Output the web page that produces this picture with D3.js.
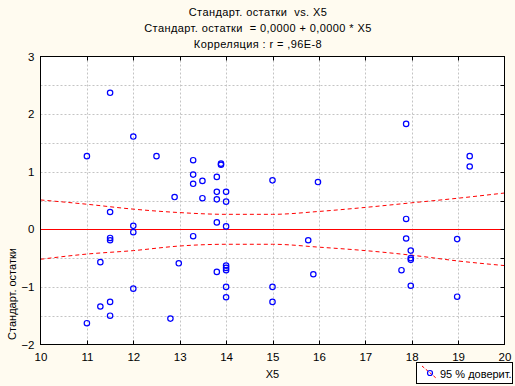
<!DOCTYPE html>
<html><head><meta charset="utf-8">
<script src="https://cdn.jsdelivr.net/npm/d3@7/dist/d3.min.js"></script>
<style>
html,body{margin:0;padding:0;background:#fffbf0;}
svg{display:block;}
text{font-family:"Liberation Sans",Arial,sans-serif;font-size:11px;fill:#000;white-space:pre;}
</style></head>
<body><svg id="c" width="515" height="386"></svg>
<script>
const titleLines = ["Стандарт. остатки  vs. X5", "Стандарт. остатки  = 0,0000 + 0,0000 * X5", "Корреляция : r = ,96E-8"];
const xLabel = "X5";
const yLabel = "Стандарт. остатки";
const legendLabel = "95 % доверит.";
const xTicks = [10,11,12,13,14,15,16,17,18,19,20];
const yTicks = [-2,-1,0,1,2,3];
const yGrid = [-1.5,-1,-0.5,0.5,1,1.5,2,2.5];
const xValues = [11.0,11.0,11.29,11.29,11.5,11.5,11.5,11.5,11.5,11.5,12.0,12.0,12.0,12.0,12.5,12.8,12.89,12.98,13.29,13.29,13.29,13.29,13.49,13.49,13.8,13.8,13.8,13.8,13.8,13.89,13.89,14.0,14.0,14.0,14.0,14.0,14.0,14.0,14.0,15.0,15.0,15.0,15.77,15.88,15.98,17.78,17.88,17.88,17.88,17.98,17.98,17.98,17.98,18.98,18.98,19.25,19.25];
const yValues = [1.27,-1.63,-0.57,-1.34,2.37,0.30,-0.15,-0.19,-1.26,-1.50,1.61,0.06,-0.05,-1.03,1.27,-1.55,0.56,-0.59,1.20,0.95,0.79,-0.12,0.84,0.54,0.91,0.65,0.52,0.12,-0.74,1.14,1.12,0.65,0.48,0.05,-0.63,-0.67,-0.71,-1.00,-1.18,0.85,-1.00,-1.26,-0.19,-0.78,0.82,-0.71,1.83,0.18,-0.16,-0.37,-0.50,-0.53,-0.98,-0.17,-1.17,1.27,1.09];
const bandX = [10,11,12,13,14,15,16,17,18,19,20];
const bandUpper = [0.51,0.435,0.35,0.29,0.26,0.26,0.31,0.38,0.46,0.54,0.63];
const bandLower = [-0.52,-0.43,-0.37,-0.29,-0.26,-0.26,-0.31,-0.37,-0.45,-0.55,-0.63];

const svg = d3.select("#c");
const L=40.5, R=504.5, T=56.5, B=344.5;
const x = d3.scaleLinear().domain([10,20]).range([L,R]);
const y = d3.scaleLinear().domain([-2,3]).range([B,T]);

svg.append("rect").attr("x",L).attr("y",T).attr("width",R-L).attr("height",B-T).attr("fill","#fff");

// grid
const g = svg.append("g").attr("stroke","#c4c4c4").attr("stroke-dasharray","2,2").attr("stroke-width",1);
xTicks.slice(1,-1).forEach(v=>g.append("line").attr("x1",Math.round(x(v))+0.5).attr("x2",Math.round(x(v))+0.5).attr("y1",T).attr("y2",B));
yGrid.forEach(v=>g.append("line").attr("x1",L).attr("x2",R).attr("y1",Math.round(y(v))+0.5).attr("y2",Math.round(y(v))+0.5));

// regression line at 0
svg.append("line").attr("x1",L).attr("x2",R).attr("y1",Math.round(y(0))+0.5).attr("y2",Math.round(y(0))+0.5).attr("stroke","#ff0000").attr("stroke-width",1.2);

// bands
const line = d3.line().x((d,i)=>x(bandX[i])).y(d=>y(d)).curve(d3.curveMonotoneX);
[bandUpper,bandLower].forEach(arr=>svg.append("path").attr("d",line(arr)).attr("fill","none").attr("stroke","#ff0000").attr("stroke-width",1).attr("stroke-dasharray","4,3"));

// points
svg.append("g").selectAll("circle").data(xValues).join("circle")
  .attr("cx",(d)=>x(d)).attr("cy",(d,i)=>y(yValues[i])).attr("r",2.7)
  .attr("fill","none").attr("stroke","#0000ff").attr("stroke-width",1.2);

// frame
svg.append("rect").attr("x",L).attr("y",T).attr("width",R-L).attr("height",B-T).attr("fill","none").attr("stroke","#000").attr("stroke-width",1);

// ticks
const tk = svg.append("g").attr("stroke","#000").attr("stroke-width",1);
xTicks.slice(1,-1).forEach(v=>{
  const px=Math.round(x(v))+0.5;
  tk.append("line").attr("x1",px).attr("x2",px).attr("y1",B).attr("y2",B-4);
  tk.append("line").attr("x1",px).attr("x2",px).attr("y1",T).attr("y2",T+4);
});
yGrid.concat([0]).forEach(v=>{
  const py=Math.round(y(v))+0.5;
  tk.append("line").attr("x1",R).attr("x2",R-4).attr("y1",py).attr("y2",py);
});

// axes labels via d3 axis (text only)
const xa = svg.append("g").attr("transform",`translate(0,${B})`).call(d3.axisBottom(x).tickValues(xTicks).tickFormat(d3.format("d")).tickSize(0).tickPadding(8));
xa.select(".domain").remove();
xa.selectAll("text").style("font-size","11.5px").style("font-family","Liberation Sans, Arial, sans-serif");
const ya = svg.append("g").attr("transform",`translate(${L},0)`).call(d3.axisLeft(y).tickValues(yTicks).tickFormat(d3.format("d")).tickSize(0).tickPadding(6));
ya.select(".domain").remove();
ya.selectAll("text").style("font-size","11.5px").style("font-family","Liberation Sans, Arial, sans-serif");

// titles
titleLines.forEach((t,i)=>svg.append("text").attr("x",258).attr("y",16+i*16).attr("text-anchor","middle").style("letter-spacing","0.4px").text(t));
svg.append("text").attr("x",(L+R)/2).attr("y",378).attr("text-anchor","middle").text(xLabel);
svg.append("text").attr("transform","translate(16,294) rotate(-90)").attr("text-anchor","middle").text(yLabel);

// legend
svg.append("rect").attr("x",416.5).attr("y",362.5).attr("width",96).attr("height",21).attr("fill","#fff").attr("stroke","#000");
svg.append("line").attr("x1",422).attr("y1",366).attr("x2",436).attr("y2",378).attr("stroke","#ff0000").attr("stroke-dasharray","3,2");
svg.append("circle").attr("cx",430).attr("cy",373).attr("r",2.5).attr("fill","none").attr("stroke","#0000ff").attr("stroke-width",1.2);
svg.append("text").attr("x",440).attr("y",378).text(legendLabel);
</script></body></html>
